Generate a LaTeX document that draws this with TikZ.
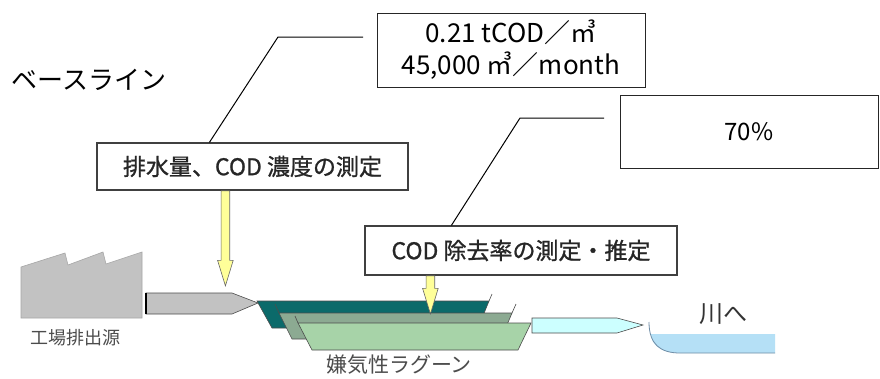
\documentclass[tikz,border=0pt]{standalone}
\usepackage{fontspec}
\setmainfont{Noto Sans CJK JP}
\newfontfamily\jpbold[FakeBold=1]{Noto Sans CJK JP}
\usetikzlibrary{shapes.arrows,calc}

\definecolor{arrowyellow}{HTML}{FFFF99}
\definecolor{pondteal}{HTML}{0B6A6A}
\definecolor{pondsage}{HTML}{8CAA92}
\definecolor{pondgreen}{HTML}{A7D3A8}
\definecolor{pipegray}{HTML}{C2C2C2}
\definecolor{pipecyan}{HTML}{CCFFFF}
\definecolor{riverblue}{HTML}{B5E0F6}
\definecolor{riveredge}{HTML}{6F8DA6}

\begin{document}
\begin{tikzpicture}[x=1pt,y=-1pt,
    infobox/.style={draw=black!85, line width=1pt, fill=white, align=center, inner sep=0pt},
    stepbox/.style={draw=black!75, line width=1.2pt, fill=white, inner sep=0pt,
        font=\jpbold\fontsize{23}{26}\selectfont, text=black!85},
    downarrow/.style={single arrow, draw=black!60, fill=arrowyellow, line width=0.6pt,
        inner sep=4pt, single arrow head extend=3.5pt, single arrow tip angle=34,
        rotate=-90, anchor=tail},
    leader/.style={draw=black, line width=1pt},
    outline/.style={draw=black!70, line width=0.6pt},
    caption/.style={text=black!70, inner sep=0pt}]

    \fill[white] (0,0) rectangle (880,378);
    \useasboundingbox (0,0) rectangle (880,378);

    % Title
    \node[inner sep=0pt, font=\fontsize{26}{30}\selectfont] (baseline) at (89,80) {ベースライン};

    % Values
    \node[infobox, minimum width=268pt, minimum height=74pt, font=\fontsize{26}{32}\selectfont]
        (baseval) at (511,50) {0.21 tCOD／㎥\\45,000 ㎥／month};
    \node[infobox, minimum width=258pt, minimum height=73pt, font=\fontsize{24}{28}\selectfont]
        (rateval) at (749,131.5) {70\%};

    % Measurements
    \node[stepbox, minimum width=311pt, minimum height=47pt] (measure) at (252.5,166.5) {排水量、COD 濃度の測定};
    \node[stepbox, minimum width=312pt, minimum height=49pt] (removal) at (521,250.5) {COD 除去率の測定・推定};

    % Leader lines
    \coordinate (leadA) at (363,37);
    \coordinate (bendA) at (278,37);
    \draw[leader] (leadA) -- (bendA) -- ($(measure.north west)+(113,0)$);
    \coordinate (leadB) at (604,118);
    \coordinate (bendB) at (520,118);
    \draw[leader] (leadB) -- (bendB) -- ($(removal.north west)+(87,0)$);

    % Factory
    \filldraw[fill=pipegray, draw=black!35, line width=0.6pt]
        (21,318) -- (21,267) -- (65,253) -- (68,265) -- (103,252) -- (106,264)
        -- (142,252) -- (142,318) -- cycle;
    \node[caption, font=\fontsize{18}{20}\selectfont] (factoryname) at (75,338) {工場排出源};

    % Effluent pipe
    \filldraw[outline, fill=pipegray] (146,293) -- (232,293) -- (258,303) -- (232,314) -- (146,314) -- cycle;
    \draw[line width=1.6pt] (146,293) -- (146,314);

    % Lagoon layers
    \filldraw[outline, fill=pondteal] (257,301) -- (489,301) -- (478,328) -- (272,328) -- cycle;
    \draw[outline] (489,301) -- (492,294);
    \filldraw[outline, fill=pondsage] (279,313) -- (512,313) -- (501,339) -- (292,339) -- cycle;
    \draw[outline] (279,313) -- (275,304);
    \draw[outline] (512,313) -- (516,304);
    \filldraw[outline, fill=pondgreen] (298,323) -- (531,323) -- (518,350) -- (312,350) -- cycle;
    \draw[outline] (298,323) -- (295,316);
    \node[caption, font=\fontsize{21}{23}\selectfont] (lagoonname) at (399,365) {嫌気性ラグーン};

    % Yellow arrows
    \node[downarrow, minimum height=95pt] (arrowA) at ($(measure.south west)+(129,0)$) {};
    \node[downarrow, minimum height=38pt] (arrowB) at ($(removal.south west)+(66,0)$) {};

    % Outflow pipe
    \filldraw[outline, fill=pipecyan] (532,318) -- (617,318) -- (643,325) -- (617,333) -- (532,333) -- cycle;

    % River
    \fill[riverblue] (651,334) -- (775,334) -- (775,353) -- (680,353)
        .. controls (660,353) and (651,344) .. (651,334) -- cycle;
    \draw[riveredge, line width=0.8pt] (649,322) .. controls (649,344) and (660,353) .. (680,353) -- (775,353);
    \node[caption, text=black!80, font=\fontsize{24}{26}\selectfont] (rivername) at (723,314) {川へ};
\end{tikzpicture}
\end{document}
